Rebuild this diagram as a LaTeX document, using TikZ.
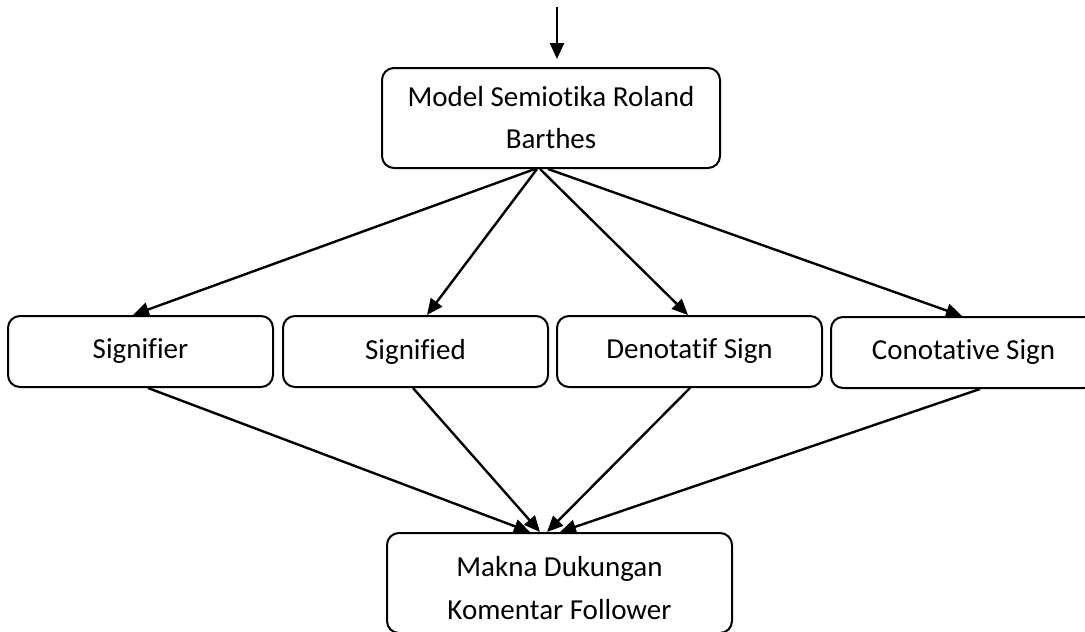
\documentclass[tikz,border=0pt]{standalone}
\usepackage{fontspec}
\setmainfont{Carlito}[Ligatures=NoCommon]
\usetikzlibrary{arrows.meta,calc}
\begin{document}
\begin{tikzpicture}[x=1pt,y=-1pt,
  box/.style={draw,line width=2pt,rounded corners=12pt,minimum height=71pt,inner sep=0pt,align=center,font=\fontsize{29}{42}\selectfont},
  lbl/.style={inner sep=0pt,align=center,font=\fontsize{29}{43}\selectfont},
  conn/.style={line width=2.4pt,-{Triangle[length=16pt,width=14pt]}}]
\useasboundingbox (0,0) rectangle (1085,632);
% nodes
\node[box,minimum width=338pt,minimum height=100pt] (top) at (551,118) {Model Semiotika Roland\\Barthes};
\node[box,minimum width=265pt] (sr) at (140.5,351.5) {Signifier};
\node[box,minimum width=265pt] (sd) at (415.5,351.5) {Signified};
\node[box,minimum width=265pt] (dn) at (689.5,351.5) {Denotatif Sign};
\node[box,minimum width=265pt] (cn) at (963.5,352.5) {Conotative Sign};
\node[box,minimum width=345pt,minimum height=100pt] (bot) at (559.5,583) {};
\node[lbl] (bottxt) at (559.5,588) {Makna Dukungan\\Komentar Follower};
% incoming arrow
\coordinate (in0) at (557,7);
\draw[conn,shorten >=8pt] (in0) -- (in0 |- top.north);
% top to middle
\draw[conn] ($(top.south)+(-16,0)$) -- ($(sr.north)+(-7.5,0)$);
\draw[conn] ($(top.south)+(-14,0)$) -- ($(sd.north)+(11.5,0)$);
\draw[conn] ($(top.south)+(-11,0)$) -- ($(dn.north)+(-1.5,0)$);
\draw[conn] ($(top.south)+(-3,0)$) -- ($(cn.north)+(-1.5,0)$);
% middle to bottom
\draw[conn] ($(sr.south)+(7.5,0)$) -- ($(bot.north)+(-29.5,0)$);
\draw[conn] ($(sd.south)+(-2.5,0)$) -- ($(bot.north)+(-19.5,0)$);
\draw[conn] ($(dn.south)+(0.5,0)$) -- ($(bot.north)+(-12.5,0)$);
\draw[conn] ($(cn.south)+(16.5,0)$) -- ($(bot.north)+(0.5,0)$);
\end{tikzpicture}
\end{document}
